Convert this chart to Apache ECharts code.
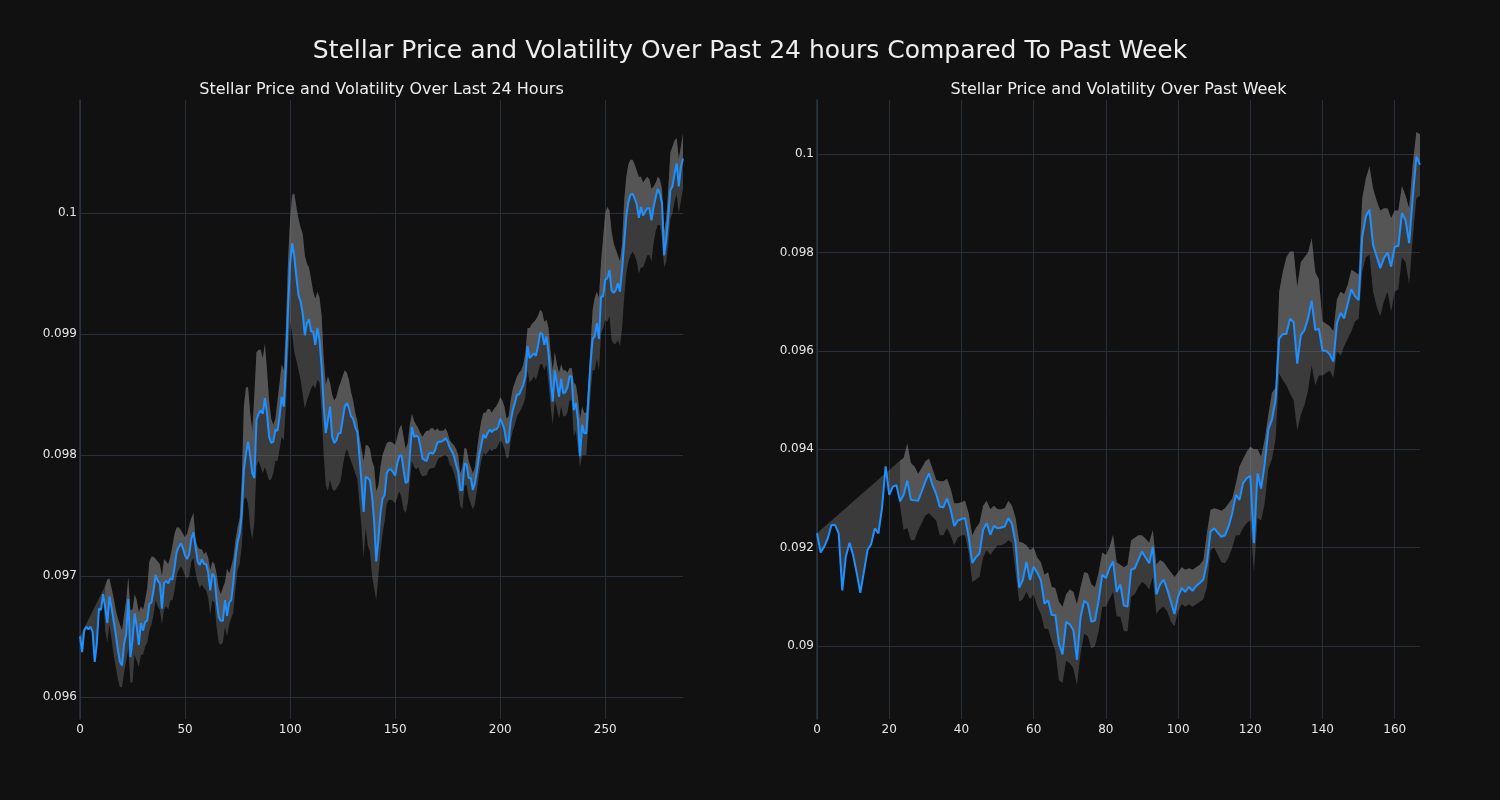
<!DOCTYPE html>
<html><head><meta charset="utf-8">
<script src="https://cdn.jsdelivr.net/npm/echarts@6/dist/echarts.min.js"></script>
<style>html,body{margin:0;padding:0;background:#111111}#c{width:1500px;height:800px}</style>
</head><body><div id="c"></div>
<script>
// ---- Last 24 hours (5-minute steps) ----
const dayPrice = [
0.09650,0.09637,0.09655,0.09658,0.09656,0.09658,0.09654,0.09629,0.09644,0.09673,
0.09672,0.09685,0.09674,0.09661,0.09683,0.09674,0.09663,0.09652,0.09639,0.09629,
0.09626,0.09644,0.09652,0.09681,0.09633,0.09647,0.09669,0.09658,0.09643,0.09661,
0.09655,0.09662,0.09663,0.09677,0.09678,0.09688,0.09701,0.09696,0.09694,0.09673,
0.09694,0.09696,0.09694,0.09698,0.09697,0.09707,0.09720,0.09724,0.09727,0.09723,
0.09717,0.09714,0.09718,0.09731,0.09736,0.09724,0.09712,0.09709,0.09714,0.09710,
0.09710,0.09703,0.09688,0.09702,0.09699,0.09680,0.09666,0.09663,0.09663,0.09680,
0.09667,0.09678,0.09680,0.09695,0.09715,0.09728,0.09735,0.09752,0.09788,0.09801,
0.09811,0.09799,0.09785,0.09781,0.09829,0.09834,0.09837,0.09834,0.09847,0.09834,
0.09815,0.09810,0.09811,0.09821,0.09820,0.09832,0.09848,0.09840,0.09873,0.09920,
0.09958,0.09975,0.09964,0.09947,0.09932,0.09927,0.09917,0.09899,0.09909,0.09912,
0.09902,0.09902,0.09891,0.09905,0.09895,0.09873,0.09840,0.09818,0.09829,0.09840,
0.09815,0.09810,0.09812,0.09818,0.09818,0.09829,0.09840,0.09843,0.09839,0.09832,
0.09830,0.09823,0.09819,0.09799,0.09777,0.09753,0.09782,0.09781,0.09779,0.09766,
0.09745,0.09712,0.09730,0.09752,0.09764,0.09767,0.09785,0.09788,0.09788,0.09786,
0.09783,0.09793,0.09799,0.09800,0.09788,0.09777,0.09778,0.09800,0.09823,0.09815,
0.09816,0.09815,0.09807,0.09797,0.09796,0.09795,0.09801,0.09802,0.09801,0.09804,
0.09810,0.09811,0.09811,0.09812,0.09814,0.09811,0.09806,0.09803,0.09799,0.09792,
0.09786,0.09771,0.09771,0.09793,0.09792,0.09781,0.09781,0.09771,0.09777,0.09788,
0.09800,0.09808,0.09817,0.09814,0.09818,0.09821,0.09819,0.09821,0.09821,0.09823,
0.09830,0.09826,0.09821,0.09810,0.09811,0.09828,0.09837,0.09843,0.09850,0.09850,
0.09854,0.09858,0.09865,0.09890,0.09880,0.09882,0.09884,0.09882,0.09890,0.09901,
0.09900,0.09891,0.09898,0.09884,0.09862,0.09844,0.09870,0.09859,0.09848,0.09863,
0.09851,0.09852,0.09856,0.09865,0.09865,0.09837,0.09843,0.09829,0.09799,0.09825,
0.09818,0.09818,0.09848,0.09876,0.09896,0.09898,0.09909,0.09896,0.09931,0.09931,
0.09945,0.09946,0.09953,0.09936,0.09934,0.09936,0.09942,0.09935,0.09953,0.09975,
0.09997,0.10009,0.10015,0.10016,0.10012,0.10007,0.09996,0.10005,0.09998,0.10001,
0.10004,0.10004,0.09994,0.10005,0.10013,0.10020,0.10016,0.10008,0.09965,0.09978,
0.09997,0.10019,0.10022,0.10033,0.10041,0.10022,0.10038,0.10045
];
// band edges (null while the rolling window is incomplete)
const dayUpper = [
null,null,null,null,null,null,null,null,null,null,
null,null,0.09692,0.09697,0.09698,0.09690,0.09682,0.09672,0.09665,0.09660,
0.09655,0.09668,0.09680,0.09699,0.09672,0.09672,0.09685,0.09680,0.09670,0.09675,
0.09672,0.09680,0.09690,0.09712,0.09716,0.09716,0.09714,0.09712,0.09710,0.09700,
0.09714,0.09712,0.09710,0.09716,0.09725,0.09735,0.09740,0.09740,0.09738,0.09735,
0.09732,0.09735,0.09742,0.09748,0.09752,0.09730,0.09724,0.09722,0.09722,0.09718,
0.09720,0.09715,0.09705,0.09712,0.09710,0.09702,0.09690,0.09685,0.09690,0.09695,
0.09706,0.09702,0.09708,0.09715,0.09730,0.09740,0.09748,0.09780,0.09840,0.09856,
0.09856,0.09835,0.09820,0.09850,0.09885,0.09887,0.09887,0.09880,0.09892,0.09870,
0.09845,0.09830,0.09825,0.09830,0.09845,0.09860,0.09875,0.09870,0.09905,0.09960,
0.09995,0.10015,0.10016,0.10005,0.09995,0.09988,0.09983,0.09965,0.09958,0.09955,
0.09945,0.09935,0.09929,0.09935,0.09930,0.09915,0.09880,0.09858,0.09865,0.09860,
0.09850,0.09845,0.09848,0.09855,0.09860,0.09865,0.09870,0.09868,0.09862,0.09852,
0.09845,0.09835,0.09828,0.09815,0.09805,0.09795,0.09808,0.09808,0.09805,0.09795,
0.09790,0.09770,0.09775,0.09790,0.09800,0.09805,0.09810,0.09811,0.09811,0.09810,
0.09808,0.09815,0.09822,0.09825,0.09815,0.09805,0.09810,0.09825,0.09834,0.09828,
0.09825,0.09822,0.09818,0.09815,0.09818,0.09820,0.09820,0.09822,0.09822,0.09820,
0.09822,0.09820,0.09820,0.09820,0.09822,0.09818,0.09812,0.09810,0.09808,0.09805,
0.09800,0.09785,0.09790,0.09806,0.09805,0.09795,0.09790,0.09785,0.09790,0.09805,
0.09818,0.09828,0.09835,0.09835,0.09838,0.09838,0.09835,0.09838,0.09840,0.09843,
0.09848,0.09845,0.09840,0.09830,0.09832,0.09845,0.09855,0.09860,0.09865,0.09868,
0.09870,0.09875,0.09885,0.09905,0.09905,0.09908,0.09910,0.09912,0.09915,0.09920,
0.09918,0.09910,0.09912,0.09905,0.09885,0.09870,0.09885,0.09875,0.09868,0.09875,
0.09870,0.09870,0.09868,0.09872,0.09872,0.09860,0.09858,0.09848,0.09830,0.09840,
0.09835,0.09835,0.09860,0.09890,0.09920,0.09930,0.09935,0.09930,0.09960,0.09980,
0.10000,0.10005,0.10002,0.09985,0.09975,0.09970,0.09965,0.09960,0.09975,0.10010,
0.10030,0.10040,0.10044,0.10044,0.10040,0.10035,0.10030,0.10030,0.10025,0.10028,
0.10030,0.10028,0.10020,0.10022,0.10025,0.10030,0.10028,0.10020,0.09985,0.09995,
0.10020,0.10050,0.10055,0.10060,0.10062,0.10045,0.10055,0.10066
];
const dayLower = [
null,null,null,null,null,null,null,null,null,null,
null,null,0.09655,0.09645,0.09660,0.09648,0.09635,0.09625,0.09615,0.09608,
0.09608,0.09620,0.09630,0.09640,0.09612,0.09612,0.09635,0.09630,0.09625,0.09635,
0.09635,0.09642,0.09645,0.09655,0.09660,0.09668,0.09680,0.09675,0.09672,0.09660,
0.09672,0.09675,0.09672,0.09680,0.09680,0.09688,0.09700,0.09705,0.09708,0.09705,
0.09700,0.09698,0.09700,0.09712,0.09715,0.09703,0.09695,0.09690,0.09693,0.09690,
0.09688,0.09682,0.09668,0.09680,0.09678,0.09658,0.09645,0.09643,0.09645,0.09658,
0.09650,0.09660,0.09665,0.09670,0.09690,0.09705,0.09710,0.09725,0.09763,0.09765,
0.09760,0.09740,0.09730,0.09745,0.09790,0.09795,0.09790,0.09785,0.09790,0.09785,
0.09779,0.09780,0.09785,0.09795,0.09795,0.09805,0.09815,0.09812,0.09840,0.09880,
0.09910,0.09900,0.09885,0.09878,0.09870,0.09862,0.09850,0.09838,0.09845,0.09850,
0.09855,0.09858,0.09855,0.09862,0.09860,0.09835,0.09800,0.09775,0.09770,0.09780,
0.09772,0.09770,0.09772,0.09775,0.09778,0.09790,0.09800,0.09805,0.09800,0.09795,
0.09790,0.09785,0.09780,0.09760,0.09740,0.09715,0.09740,0.09725,0.09720,0.09700,
0.09690,0.09680,0.09700,0.09720,0.09735,0.09745,0.09760,0.09763,0.09763,0.09762,
0.09760,0.09765,0.09770,0.09765,0.09755,0.09752,0.09760,0.09778,0.09795,0.09790,
0.09788,0.09790,0.09785,0.09782,0.09783,0.09783,0.09788,0.09789,0.09789,0.09790,
0.09795,0.09798,0.09798,0.09800,0.09800,0.09798,0.09792,0.09790,0.09785,0.09778,
0.09770,0.09758,0.09755,0.09775,0.09775,0.09765,0.09760,0.09755,0.09760,0.09772,
0.09785,0.09795,0.09802,0.09800,0.09802,0.09805,0.09803,0.09805,0.09805,0.09808,
0.09812,0.09810,0.09805,0.09797,0.09798,0.09812,0.09820,0.09825,0.09832,0.09835,
0.09838,0.09842,0.09848,0.09870,0.09860,0.09862,0.09865,0.09862,0.09868,0.09875,
0.09875,0.09870,0.09875,0.09860,0.09840,0.09825,0.09845,0.09838,0.09830,0.09840,
0.09832,0.09832,0.09835,0.09845,0.09845,0.09815,0.09820,0.09805,0.09790,0.09800,
0.09800,0.09800,0.09825,0.09850,0.09870,0.09870,0.09880,0.09870,0.09900,0.09905,
0.09912,0.09910,0.09915,0.09895,0.09892,0.09892,0.09895,0.09890,0.09905,0.09930,
0.09950,0.09960,0.09965,0.09968,0.09965,0.09960,0.09950,0.09955,0.09955,0.09960,
0.09965,0.09965,0.09960,0.09975,0.09985,0.09990,0.09990,0.09980,0.09955,0.09960,
0.09975,0.09995,0.10000,0.10010,0.10015,0.10000,0.10010,0.10020
];

// ---- Past week (hourly steps) ----
const weekPrice = [
0.09229,0.09190,0.09202,0.09219,0.09246,0.09246,0.09229,0.09113,0.09182,0.09210,
0.09185,0.09148,0.09108,0.09151,0.09195,0.09207,0.09239,0.09229,0.09280,0.09365,
0.09307,0.09324,0.09327,0.09294,0.09307,0.09336,0.09297,0.09296,0.09295,0.09314,
0.09334,0.09351,0.09327,0.09309,0.09283,0.09282,0.09300,0.09278,0.09244,0.09255,
0.09258,0.09260,0.09222,0.09169,0.09180,0.09188,0.09236,0.09250,0.09226,0.09244,
0.09239,0.09241,0.09243,0.09260,0.09248,0.09209,0.09119,0.09134,0.09171,0.09134,
0.09161,0.09149,0.09134,0.09086,0.09093,0.09063,0.09063,0.09005,0.08983,0.09049,
0.09044,0.09032,0.08972,0.09059,0.09092,0.09086,0.09049,0.09052,0.09093,0.09145,
0.09138,0.09158,0.09172,0.09110,0.09125,0.09082,0.09080,0.09155,0.09158,0.09175,
0.09192,0.09180,0.09168,0.09202,0.09105,0.09125,0.09135,0.09115,0.09090,0.09065,
0.09100,0.09118,0.09110,0.09120,0.09112,0.09122,0.09128,0.09135,0.09170,0.09233,
0.09239,0.09230,0.09222,0.09225,0.09243,0.09270,0.09307,0.09297,0.09331,0.09341,
0.09346,0.09209,0.09351,0.09320,0.09370,0.09440,0.09460,0.09500,0.09625,0.09634,
0.09634,0.09665,0.09658,0.09574,0.09632,0.09642,0.09666,0.09702,0.09642,0.09645,
0.09600,0.09600,0.09593,0.09578,0.09656,0.09677,0.09666,0.09696,0.09725,0.09711,
0.09703,0.09832,0.09873,0.09887,0.09815,0.09792,0.09768,0.09788,0.09800,0.09771,
0.09812,0.09813,0.09880,0.09865,0.09819,0.09914,0.09995,0.09978
];
const weekUpper = [
null,null,null,null,null,null,null,null,null,null,
null,null,null,null,null,null,null,null,null,null,
null,null,null,0.09377,0.09382,0.09412,0.09372,0.09365,0.09350,0.09362,
0.09375,0.09381,0.09360,0.09338,0.09335,0.09335,0.09340,0.09320,0.09290,0.09290,
0.09292,0.09295,0.09270,0.09225,0.09240,0.09250,0.09285,0.09295,0.09278,0.09285,
0.09278,0.09278,0.09280,0.09295,0.09285,0.09260,0.09212,0.09210,0.09205,0.09195,
0.09200,0.09180,0.09170,0.09145,0.09150,0.09120,0.09118,0.09090,0.09080,0.09105,
0.09115,0.09110,0.09085,0.09120,0.09150,0.09148,0.09125,0.09120,0.09150,0.09190,
0.09185,0.09200,0.09226,0.09170,0.09165,0.09160,0.09165,0.09215,0.09220,0.09225,
0.09225,0.09218,0.09210,0.09236,0.09165,0.09175,0.09170,0.09160,0.09150,0.09140,
0.09150,0.09160,0.09155,0.09158,0.09155,0.09160,0.09165,0.09175,0.09230,0.09277,
0.09280,0.09278,0.09275,0.09280,0.09290,0.09300,0.09330,0.09365,0.09380,0.09395,
0.09405,0.09400,0.09400,0.09385,0.09420,0.09470,0.09515,0.09525,0.09720,0.09760,
0.09790,0.09802,0.09802,0.09730,0.09780,0.09790,0.09800,0.09829,0.09760,0.09745,
0.09660,0.09655,0.09650,0.09640,0.09705,0.09720,0.09715,0.09735,0.09765,0.09760,
0.09755,0.09910,0.09950,0.09975,0.09930,0.09905,0.09885,0.09890,0.09890,0.09870,
0.09885,0.09885,0.09935,0.09915,0.09890,0.09980,0.10045,0.10040
];
const weekLower = [
null,null,null,null,null,null,null,null,null,null,
null,null,null,null,null,null,null,null,null,null,
null,null,null,0.09285,0.09236,0.09240,0.09215,0.09215,0.09235,0.09250,
0.09265,0.09270,0.09262,0.09255,0.09225,0.09225,0.09240,0.09225,0.09205,0.09220,
0.09225,0.09225,0.09190,0.09130,0.09135,0.09140,0.09180,0.09195,0.09185,0.09195,
0.09205,0.09205,0.09208,0.09215,0.09210,0.09150,0.09090,0.09095,0.09110,0.09095,
0.09105,0.09080,0.09065,0.09035,0.09035,0.09010,0.08990,0.08930,0.08925,0.08970,
0.08965,0.08955,0.08920,0.08985,0.09025,0.09020,0.08995,0.09000,0.09030,0.09080,
0.09080,0.09095,0.09110,0.09060,0.09060,0.09030,0.09030,0.09100,0.09105,0.09120,
0.09130,0.09125,0.09115,0.09140,0.09065,0.09075,0.09080,0.09070,0.09050,0.09040,
0.09070,0.09085,0.09080,0.09085,0.09080,0.09085,0.09090,0.09095,0.09120,0.09195,
0.09200,0.09185,0.09170,0.09168,0.09180,0.09200,0.09225,0.09225,0.09240,0.09250,
0.09255,0.09150,0.09260,0.09255,0.09290,0.09360,0.09380,0.09420,0.09554,0.09540,
0.09530,0.09513,0.09500,0.09438,0.09470,0.09490,0.09520,0.09570,0.09530,0.09550,
0.09550,0.09555,0.09560,0.09545,0.09600,0.09590,0.09610,0.09625,0.09640,0.09660,
0.09665,0.09760,0.09790,0.09795,0.09720,0.09690,0.09670,0.09700,0.09720,0.09680,
0.09720,0.09725,0.09790,0.09780,0.09735,0.09830,0.09910,0.09915
];

// ---- ticks ----
const dayXTicks = [0, 50, 100, 150, 200, 250];
const dayYTicks = [0.096, 0.097, 0.098, 0.099, 0.1];
const weekXTicks = [0, 20, 40, 60, 80, 100, 120, 140, 160];
const weekYTicks = [0.09, 0.092, 0.094, 0.096, 0.098, 0.1];

const mainTitle = 'Stellar Price and Volatility Over Past 24 hours Compared To Past Week';
const dayTitle = 'Stellar Price and Volatility Over Last 24 Hours';
const weekTitle = 'Stellar Price and Volatility Over Past Week';

const FONT = '"DejaVu Sans", sans-serif';
const GRID_COLOR = '#272f3a';
const SPINE_COLOR = '#2b3442';
const TEXT_COLOR = '#e6e6e6';
const BAND_FILL = 'rgba(128,128,128,0.38)';
const LINE_COLOR = '#1e90ff';

function fmt(v) { return String(parseFloat(v.toFixed(4))); }

function xAxisCfg(idx, max, ticks) {
  return {
    type: 'value', gridIndex: idx, min: 0, max: max,
    axisLine: {show: false},
    axisTick: {show: false, customValues: ticks},
    axisLabel: {customValues: ticks, color: TEXT_COLOR, fontFamily: FONT, fontSize: 12, margin: 5},
    splitLine: {show: true, lineStyle: {color: GRID_COLOR, width: 1}}
  };
}
function yAxisCfg(idx, min, max, ticks) {
  return {
    type: 'value', gridIndex: idx, min: min, max: max, scale: true,
    axisLine: {show: true, onZero: false, lineStyle: {color: SPINE_COLOR, width: 1.5}},
    axisTick: {show: false, customValues: ticks},
    axisLabel: {customValues: ticks, color: TEXT_COLOR, fontFamily: FONT, fontSize: 12, margin: 3, formatter: fmt},
    splitLine: {show: true, lineStyle: {color: GRID_COLOR, width: 1}}
  };
}

function bandSeries(idx, price, upper, lower) {
  return {
    type: 'custom', xAxisIndex: idx, yAxisIndex: idx, silent: true, z: 1,
    data: price.map((p, i) => [i, p]),
    encode: {x: 0, y: 1},
    renderItem: function (params, api) {
      if (params.dataIndex !== 0) return null;
      const n = price.length;
      const outer = [];
      for (let i = 0; i < n; i++) {
        if (upper[i] != null) outer.push(api.coord([i, upper[i]]));
        else if (i === 0) outer.push(api.coord([i, price[i]]));
      }
      for (let i = n - 1; i >= 0; i--) {
        outer.push(api.coord([i, lower[i] != null ? lower[i] : price[i]]));
      }
      const inner = [];
      for (let i = 0; i < n; i++) if (upper[i] != null) inner.push(api.coord([i, upper[i]]));
      for (let i = n - 1; i >= 0; i--) if (upper[i] != null) inner.push(api.coord([i, price[i]]));
      const cs = params.coordSys;
      return {
        type: 'group',
        clipPath: {type: 'rect', shape: {x: cs.x, y: cs.y, width: cs.width, height: cs.height}},
        children: [
          {type: 'polygon', shape: {points: outer}, style: {fill: BAND_FILL}},
          {type: 'polygon', shape: {points: inner}, style: {fill: BAND_FILL}}
        ]
      };
    }
  };
}
function lineSeries(idx, price) {
  return {
    type: 'line', xAxisIndex: idx, yAxisIndex: idx, z: 3,
    data: price.map((p, i) => [i, p]),
    showSymbol: false, symbol: 'none', smooth: false, silent: true,
    lineStyle: {color: LINE_COLOR, width: 2},
    clip: true, animation: false
  };
}

const chart = echarts.init(document.getElementById('c'), null, {renderer: 'canvas'});
chart.setOption({
  backgroundColor: '#111111',
  animation: false,
  textStyle: {fontFamily: FONT},
  grid: [
    {left: 80, top: 100, width: 603, height: 619},
    {left: 817, top: 100, width: 603, height: 619}
  ],
  xAxis: [xAxisCfg(0, dayPrice.length - 1, dayXTicks), xAxisCfg(1, weekPrice.length - 1, weekXTicks)],
  yAxis: [yAxisCfg(0, 0.095818, 0.100934, dayYTicks), yAxisCfg(1, 0.088516, 0.101098, weekYTicks)],
  graphic: [
    {type: 'text', x: 750, y: 51, style: {text: mainTitle, fill: '#eeeeee', font: '25px ' + FONT, textAlign: 'center', textVerticalAlign: 'middle'}},
    {type: 'text', x: 381.5, y: 90, style: {text: dayTitle, fill: '#eeeeee', font: '16px ' + FONT, textAlign: 'center', textVerticalAlign: 'middle'}},
    {type: 'text', x: 1118.5, y: 90, style: {text: weekTitle, fill: '#eeeeee', font: '16px ' + FONT, textAlign: 'center', textVerticalAlign: 'middle'}}
  ],
  series: [
    bandSeries(0, dayPrice, dayUpper, dayLower),
    lineSeries(0, dayPrice),
    bandSeries(1, weekPrice, weekUpper, weekLower),
    lineSeries(1, weekPrice)
  ]
});
</script>
</body></html>
